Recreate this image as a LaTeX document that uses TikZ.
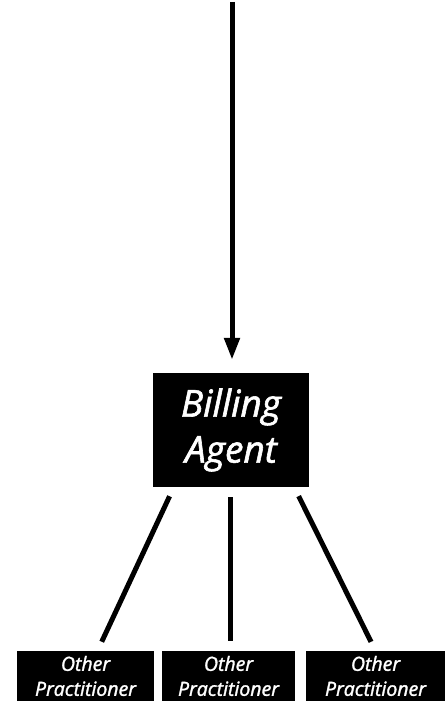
\documentclass[tikz,border=0pt]{standalone}
\usepackage{fontspec}
\setmainfont{Open Sans}
\newfontfamily\labfont{Open Sans}[ItalicFeatures={FakeBold=1.6}]
\usetikzlibrary{arrows.meta,calc}
\begin{document}
\begin{tikzpicture}[x=1pt,y=1pt,
  bigbox/.style={fill=black,text=white,minimum width=156pt,minimum height=114pt,inner sep=0pt,align=center,font=\labfont\fontsize{37}{46}\selectfont\itshape},
  smallbox/.style={fill=black,text=white,minimum height=50pt,inner sep=0pt,align=center,font=\labfont\fontsize{19.5}{25}\selectfont\itshape},
  conn/.style={line width=5pt,shorten <=10pt,shorten >=10pt}]
\useasboundingbox (0,0) rectangle (446,708);
\node[bigbox] (agent) at (231,278) {Billing\\Agent};
\node[smallbox,minimum width=137pt] (p1) at (85.5,32) {Other\\Practitioner};
\node[smallbox,minimum width=133pt] (p2) at (228.5,32) {Other\\Practitioner};
\node[smallbox,minimum width=139pt] (p3) at (375.5,32) {Other\\Practitioner};
\coordinate (top) at (232,706);
\draw[line width=5pt,-{Triangle[length=22pt,width=15pt]},shorten >=13pt] (top) -- (top |- agent.north);
\draw[conn] ($(agent.south west)+(21,0)$) -- ($(p1.north)+(12,0)$);
\draw[conn] ($(agent.south)+(-1,0)$) -- ($(p2.north)+(1.5,0)$);
\draw[conn] ($(agent.south east)+(-15,0)$) -- ($(p3.north)+(0,0)$);
\end{tikzpicture}
\end{document}
